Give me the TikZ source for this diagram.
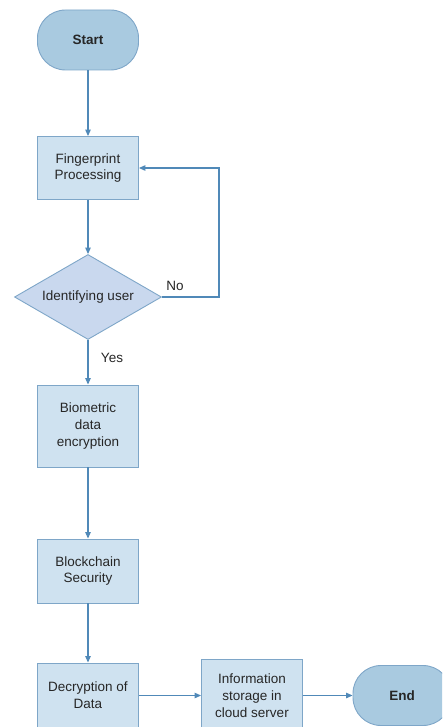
\documentclass[tikz,border=0pt]{standalone}
\usepackage{fontspec}
\setmainfont{Liberation Sans}
\usetikzlibrary{shapes.geometric,arrows.meta}
\definecolor{boxfill}{HTML}{CFE2F0}
\definecolor{boxline}{HTML}{7EA6C8}
\definecolor{termfill}{HTML}{A9CAE0}
\definecolor{decfill}{HTML}{C9D8EE}
\definecolor{flowcol}{HTML}{5089B8}
\tikzset{
    procbox/.style={rectangle, draw=boxline, fill=boxfill, line width=0.9pt,
        minimum width=101pt, align=center, text=black!85,
        font=\fontsize{13.5}{16.7}\selectfont},
    termbox/.style={procbox, fill=termfill, rounded corners=28pt,
        font=\fontsize{13.5}{16.7}\selectfont\bfseries},
    decbox/.style={diamond, draw=boxline, fill=decfill, line width=0.9pt,
        minimum width=147pt, minimum height=85pt, aspect=1.73, inner sep=0pt,
        text=black!85, font=\fontsize{13.5}{16.7}\selectfont},
    flow/.style={draw=flowcol, line width=1.1pt, -{Triangle[length=6.5pt,width=5.5pt]}},
    lbl/.style={text=black!85, font=\fontsize{13.5}{16.7}\selectfont}
}
\begin{document}
\begin{tikzpicture}[x=1pt,y=-1pt]
        \clip (0,0) rectangle (442,727);
        % Nodes
        \node[termbox, minimum height=60pt] (start) at (88,40) {Start};
        \node[procbox, minimum height=63pt] (finger) at (88,168) {Fingerprint\\Processing};
        \node[decbox] (ident) at (88,297) {Identifying user};
        \node[procbox, minimum height=82pt] (bio) at (88,426) {Biometric\\data\\encryption};
        \node[procbox, minimum height=64pt] (chain) at (88,571) {Blockchain\\Security};
        \node[procbox, minimum height=65pt] (decrypt) at (88,695.5) {Decryption of\\Data};
        \node[procbox, minimum height=73pt] (store) at (252,695.5) {Information\\storage in\\cloud server};
        \node[termbox, minimum width=98pt, minimum height=60pt] (finish) at (402,695.5) {End};
        % Connectors
        \draw[flow] (start) -- (finger);
        \draw[flow] (finger) -- (ident);
        \coordinate (back) at (219,297);
        \draw[flow] (ident.east) -- (back) |- (finger.east);
        \node[lbl] (no) at (175,286) {No};
        \draw[flow] (ident.south) -- (bio);
        \node[lbl] (yes) at (112,358) {Yes};
        \draw[flow] (bio) -- (chain);
        \draw[flow] (chain) -- (decrypt);
        \draw[flow] (decrypt) -- (store);
        \draw[flow] (store) -- (finish);
    \end{tikzpicture}
\end{document}
